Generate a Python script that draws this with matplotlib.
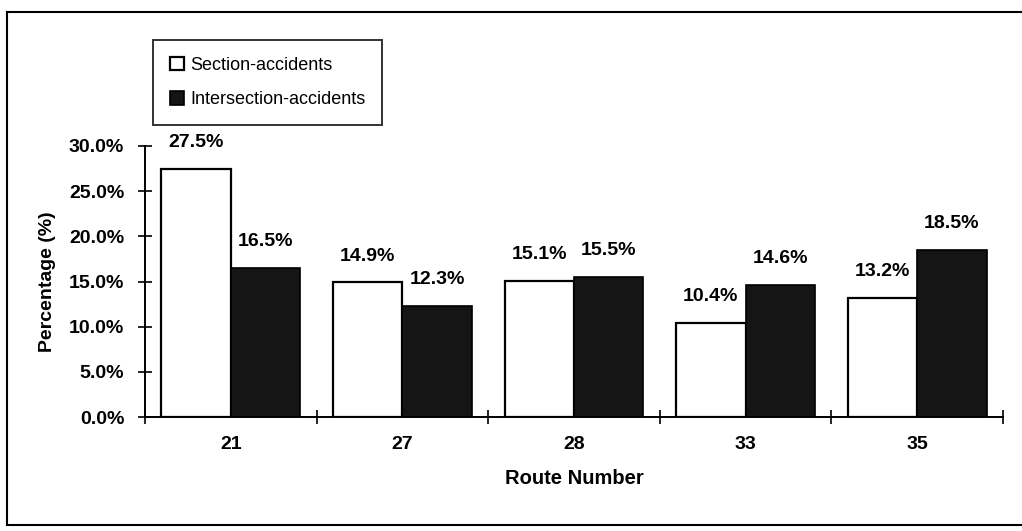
import numpy as np
import matplotlib
matplotlib.use("Agg")
import matplotlib.pyplot as plt
from matplotlib.lines import Line2D
from matplotlib.ticker import FuncFormatter

# data
routes = ["21", "27", "28", "33", "35"]
section = [27.5, 14.9, 15.1, 10.4, 13.2]
intersection = [16.5, 12.3, 15.5, 14.6, 18.5]

plt.rcParams["font.family"] = ["Liberation Sans", "DejaVu Sans"]

fig = plt.figure(figsize=(10.22, 5.31), dpi=100)
ax = fig.add_axes([145 / 1022, 1 - 417 / 531, 858 / 1022, 271 / 531])

x = np.arange(len(routes))
w = 0.405

b1 = ax.bar(x - w / 2, section, w, color="white", edgecolor="black", linewidth=1.6,
            label="Section-accidents")
b2 = ax.bar(x + w / 2, intersection, w, color="#151515", edgecolor="black", linewidth=1.2,
            label="Intersection-accidents")

# value labels above bars
for bars, vals in [(b1, section), (b2, intersection)]:
    for rect, v in zip(bars, vals):
        ax.annotate(f"{v:.1f}%", (rect.get_x() + rect.get_width() / 2, v),
                    xytext=(0, 19), textcoords="offset points",
                    ha="center", va="center", fontsize=14, fontweight="bold")

ax.set_xlim(-0.5, len(routes) - 0.5)
ax.set_ylim(0, 30)
ax.set_yticks(np.arange(0, 31, 5))
ax.yaxis.set_major_formatter(FuncFormatter(lambda v, p: f"{v:.1f}%"))

ax.set_xticks(x)
ax.set_xticklabels(routes)
ax.set_xticks(np.arange(-0.5, len(routes)), minor=True)
ax.tick_params(axis="x", which="major", length=0, pad=14)
ax.tick_params(axis="x", which="minor", direction="inout", length=10, width=1.2)
ax.tick_params(axis="y", direction="inout", length=10, width=1.2, pad=10)

for lab in ax.get_xticklabels() + ax.get_yticklabels():
    lab.set_fontsize(14)
    lab.set_fontweight("bold")

ax.spines["top"].set_visible(False)
ax.spines["right"].set_visible(False)
ax.spines["left"].set_linewidth(1.4)
ax.spines["bottom"].set_linewidth(1.4)

ax.set_xlabel("Route Number", fontsize=14.5, fontweight="bold", labelpad=11)
ax.set_ylabel("Percentage (%)", fontsize=14, fontweight="bold", labelpad=9)

leg = fig.legend(loc="upper left", bbox_to_anchor=(153 / 1022, 1 - 40 / 531),
                 fontsize=13, frameon=True, fancybox=False, edgecolor="black",
                 handlelength=0.75, handleheight=0.75, handletextpad=0.35,
                 borderpad=0.95, labelspacing=0.95, borderaxespad=0)
leg.get_frame().set_linewidth(1.4)

# outer border of the scanned chart (right side is cut off)
fx0, fy0, fy1 = 7 / 1022, 1 - 525 / 531, 1 - 12 / 531
for xs, ys in [([fx0, fx0], [fy0, fy1]), ([fx0, 1.01], [fy1, fy1]), ([fx0, 1.01], [fy0, fy0])]:
    fig.add_artist(Line2D(xs, ys, color="black", linewidth=1.5, transform=fig.transFigure))

fig.savefig("out.png", dpi=100)
